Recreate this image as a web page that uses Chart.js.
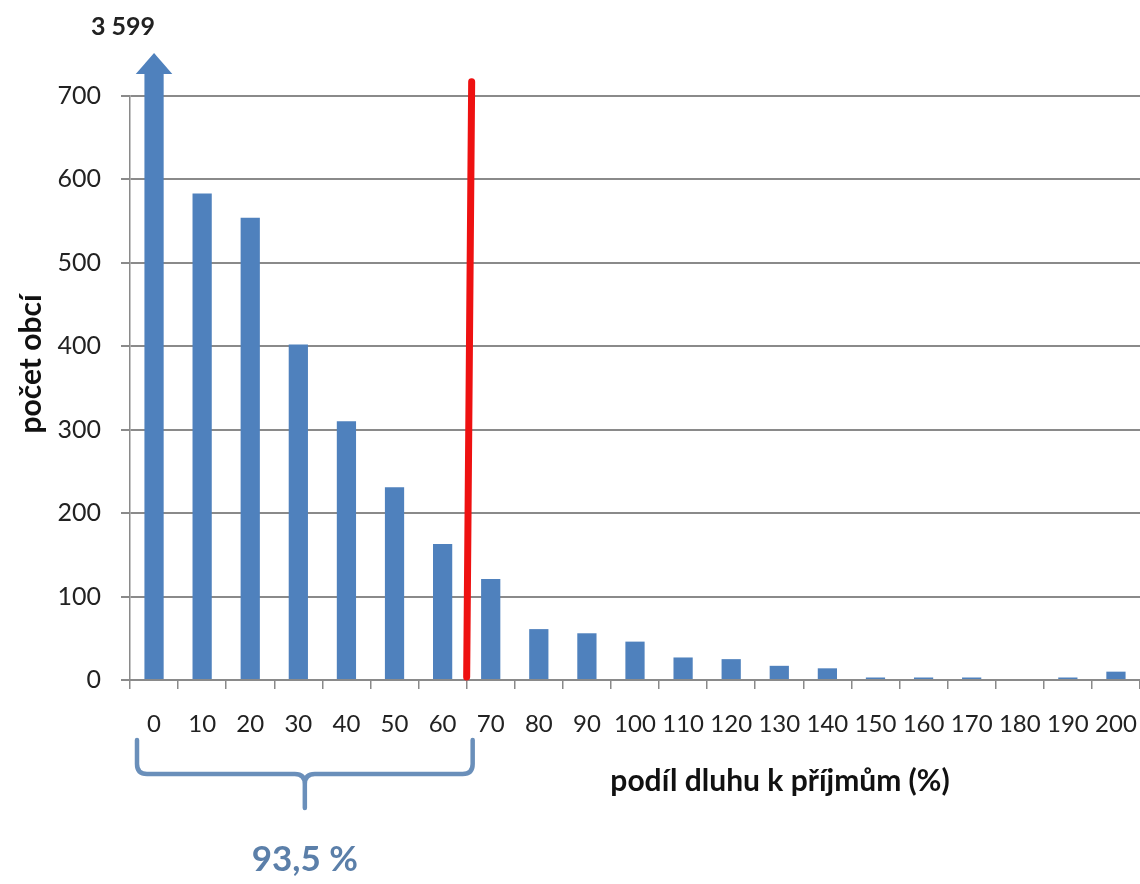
<!DOCTYPE html>
<html>
<head>
<meta charset="utf-8">
<script src="https://cdn.jsdelivr.net/npm/chart.js@4"></script>
<style>
  html, body { margin: 0; padding: 0; background: #ffffff; }
  #wrap { width: 1140px; height: 884px; }
</style>
</head>
<body>
<div id="wrap"><canvas id="c" width="1140" height="884"></canvas></div>
<script>
const categories = ['0','10','20','30','40','50','60','70','80','90','100','110','120','130','140','150','160','170','180','190','200'];
const counts = [3599, 583, 554, 402, 310, 231, 163, 121, 61, 56, 46, 27, 25, 17, 14, 3, 3, 3, 0, 3, 10];
const yTicks = [0, 100, 200, 300, 400, 500, 600, 700];
const yTitle = 'počet obcí';
const xTitle = 'podíl dluhu k příjmům (%)';
const shareLabel = '93,5 %';
const thresholdIndex = 6;      // red line after category "60"
const thresholdTop = 717;      // value where the red line ends

const FONT = 'Lato, "Open Sans", sans-serif';

const overlay = {
  id: 'overlay',
  afterDatasetsDraw(chart) {
    const ctx = chart.ctx;
    const area = chart.chartArea;
    const x = chart.scales.x, y = chart.scales.y;
    const meta = chart.getDatasetMeta(0);
    const bar0 = meta.data[0];
    const half = bar0.width / 2;
    ctx.save();
    // arrow head on the first (off-scale) bar
    const baseY = area.top - 22, tipY = area.top - 43;
    ctx.fillStyle = '#4f81bd';
    ctx.beginPath();
    ctx.moveTo(bar0.x - half * 1.9, baseY);
    ctx.lineTo(bar0.x + half * 1.9, baseY);
    ctx.lineTo(bar0.x, tipY);
    ctx.closePath();
    ctx.fill();
    // value label of the off-scale bar
    ctx.fillStyle = '#222';
    ctx.font = 'bold 25px ' + FONT;
    ctx.textAlign = 'center';
    ctx.textBaseline = 'middle';
    ctx.fillText(counts[0].toLocaleString('cs-CZ').replace(/\s/g, ' '), bar0.x - 31, 27);

    // red threshold line between categories
    const step = x.getPixelForValue(1) - x.getPixelForValue(0);
    const bx = x.getPixelForValue(thresholdIndex) + step / 2;
    ctx.strokeStyle = '#ee1111';
    ctx.lineWidth = 7;
    ctx.lineCap = 'round';
    ctx.beginPath();
    ctx.moveTo(bx, y.getPixelForValue(0) - 3);
    ctx.lineTo(bx + 5, y.getPixelForValue(thresholdTop));
    ctx.stroke();
    ctx.restore();
  },
  afterDraw(chart) {
    const ctx = chart.ctx;
    const x = chart.scales.x;
    const step = x.getPixelForValue(1) - x.getPixelForValue(0);
    const left = x.getPixelForValue(0) - step / 2 + 7;
    const right = x.getPixelForValue(thresholdIndex) + step / 2 + 6;
    const mid = (left + right) / 2;
    ctx.save();
    // brace
    const top = 740, bot = 774, r = 10, stem = 808;
    ctx.strokeStyle = '#6a8fba';
    ctx.lineWidth = 4.5;
    ctx.lineJoin = 'round';
    ctx.lineCap = 'round';
    ctx.beginPath();
    ctx.moveTo(left, top);
    ctx.lineTo(left, bot - r);
    ctx.quadraticCurveTo(left, bot, left + r, bot);
    ctx.lineTo(mid - r, bot);
    ctx.quadraticCurveTo(mid, bot, mid, bot + r);
    ctx.lineTo(mid, stem);
    ctx.moveTo(mid, bot + r);
    ctx.quadraticCurveTo(mid, bot, mid + r, bot);
    ctx.lineTo(right - r, bot);
    ctx.quadraticCurveTo(right, bot, right, bot - r);
    ctx.lineTo(right, top);
    ctx.stroke();
    // share text
    ctx.fillStyle = '#5b7fa9';
    ctx.font = 'bold 35px ' + FONT;
    ctx.textAlign = 'center';
    ctx.textBaseline = 'middle';
    ctx.fillText(shareLabel, mid, 860);
    // x title
    ctx.fillStyle = '#111';
    ctx.font = 'bold 30px ' + FONT;
    ctx.fillText(xTitle, 780, 781);
    // y title
    ctx.translate(31, 364);
    ctx.rotate(-Math.PI / 2);
    ctx.font = 'bold 30px ' + FONT;
    ctx.fillText(yTitle, 0, 0);
    ctx.restore();
  }
};

new Chart(document.getElementById('c'), {
  type: 'bar',
  data: {
    labels: categories,
    datasets: [{
      data: counts,
      backgroundColor: '#4f81bd',
      borderWidth: 0,
      barPercentage: 0.4,
      categoryPercentage: 1.0,
      clip: { left: 0, top: 22, right: 0, bottom: 0 }
    }]
  },
  options: {
    responsive: false,
    animation: false,
    devicePixelRatio: 1,
    layout: { padding: { top: 96, right: 0, left: 0, bottom: 0 } },
    plugins: { legend: { display: false }, tooltip: { enabled: false } },
    scales: {
      x: {
        offset: true,
        grid: { display: true, drawOnChartArea: false, drawTicks: true, tickLength: 9, offset: true, color: '#8a8a8a', lineWidth: 1.5 },
        border: { display: true, color: '#8a8a8a', width: 2 },
        ticks: { color: '#222', font: { family: FONT, size: 24 }, padding: 21, maxRotation: 0, autoSkip: false },
        afterFit(scale) { scale.height = 884 - 680; scale.paddingLeft = 0; scale.paddingRight = 0; }
      },
      y: {
        min: 0, max: 700,
        afterBuildTicks(scale) { scale.ticks = yTicks.map(v => ({ value: v })); },
        grid: { color: '#8a8a8a', lineWidth: 2, tickLength: 9 },
        border: { display: true, color: '#8a8a8a', width: 1.5 },
        ticks: { color: '#222', font: { family: FONT, size: 25 }, padding: 20 },
        afterFit(scale) { scale.width = 130; scale.paddingTop = 0; scale.paddingBottom = 0; }
      }
    }
  },
  plugins: [overlay]
});
</script>
</body>
</html>
